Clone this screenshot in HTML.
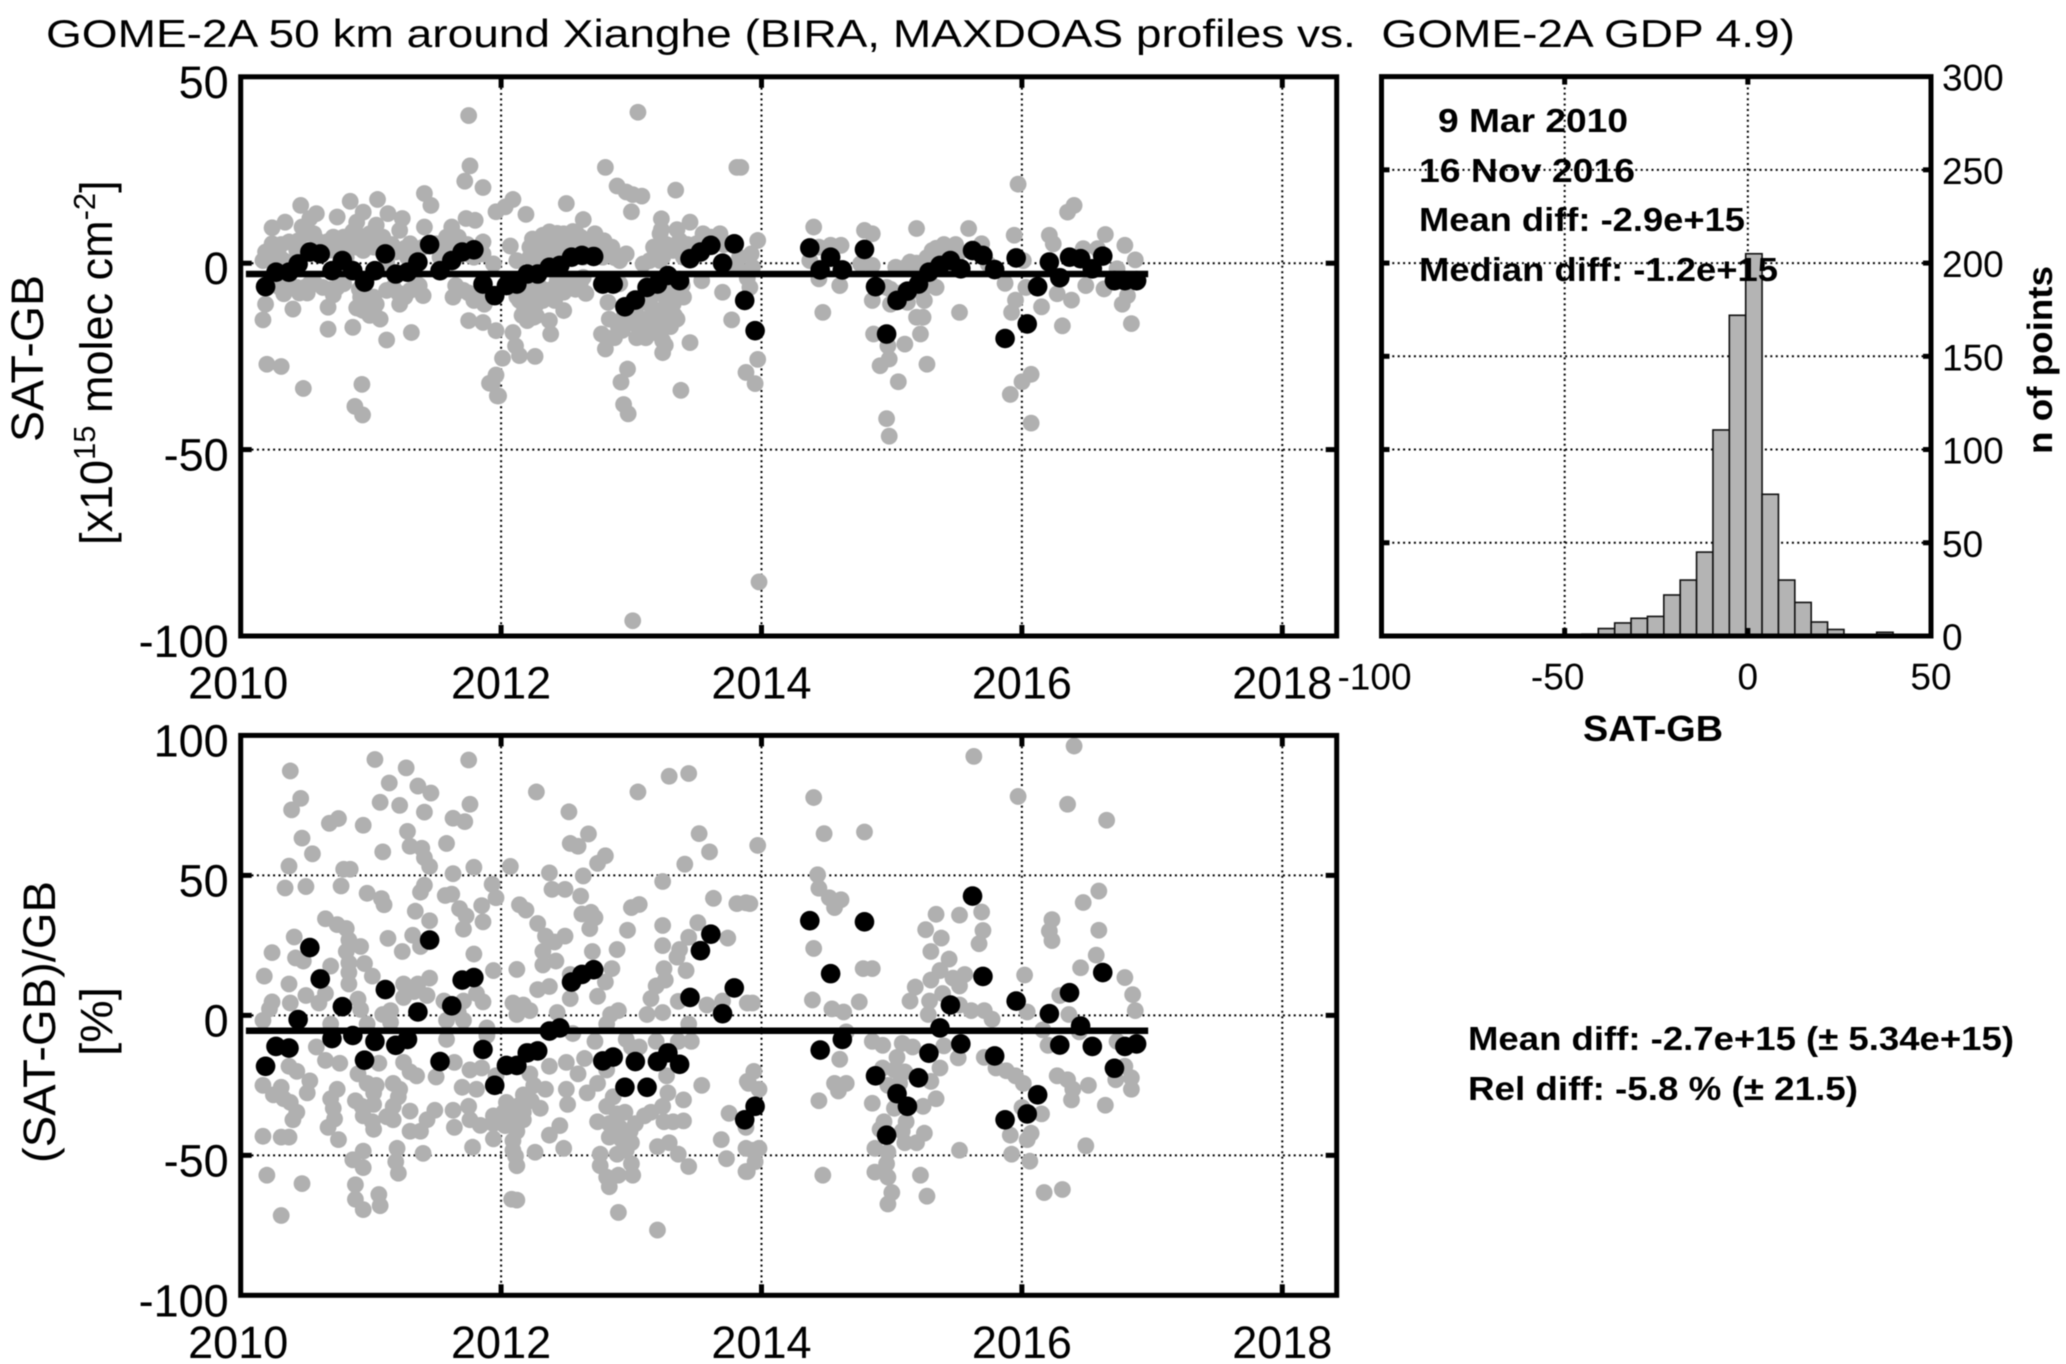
<!DOCTYPE html>
<html lang="en">
<head>
<meta charset="utf-8">
<title>GOME-2A 50 km around Xianghe</title>
<style>
html,body{margin:0;padding:0;background:#fff;}
svg{display:block;font-family:"Liberation Sans",sans-serif;filter:blur(0.5px);}
</style>
</head>
<body>
<svg id="chart" xmlns="http://www.w3.org/2000/svg" width="2066" height="1364" viewBox="0 0 2066 1364">
<rect x="0" y="0" width="2066" height="1364" fill="#fff"/>
<text x="46" y="47" font-size="39" textLength="1749" lengthAdjust="spacingAndGlyphs" xml:space="preserve">GOME-2A 50 km around Xianghe (BIRA, MAXDOAS profiles vs.  GOME-2A GDP 4.9)</text>
<text transform="translate(43,442) rotate(-90)" font-size="45" textLength="167" lengthAdjust="spacingAndGlyphs">SAT-GB</text>
<text transform="translate(112,545) rotate(-90)" font-size="45">[x10<tspan dy="-17" font-size="31">15</tspan><tspan dy="17"> molec cm</tspan><tspan dy="-17" font-size="31">-2</tspan><tspan dy="17">]</tspan></text>
<text transform="translate(55,1163) rotate(-90)" font-size="45" textLength="282" lengthAdjust="spacingAndGlyphs">(SAT-GB)/GB</text>
<text transform="translate(112,1056) rotate(-90)" font-size="45" textLength="69" lengthAdjust="spacingAndGlyphs">[%]</text>
<text x="1583" y="741" font-size="36" font-weight="bold" textLength="140" lengthAdjust="spacingAndGlyphs">SAT-GB</text>
<text transform="translate(2052,454) rotate(-90)" font-size="35" font-weight="bold" textLength="188" lengthAdjust="spacingAndGlyphs">n of points</text>
<g id="panels"></g>
<text x="1438" y="132" font-size="33" font-weight="bold" textLength="190" lengthAdjust="spacingAndGlyphs">9 Mar 2010</text>
<text x="1419" y="182" font-size="33" font-weight="bold" textLength="216" lengthAdjust="spacingAndGlyphs">16 Nov 2016</text>
<text x="1419" y="231" font-size="33" font-weight="bold" textLength="326" lengthAdjust="spacingAndGlyphs">Mean diff: -2.9e+15</text>
<text x="1419" y="281" font-size="33" font-weight="bold" textLength="359" lengthAdjust="spacingAndGlyphs">Median diff: -1.2e+15</text>
<text x="1468" y="1050" font-size="33" font-weight="bold" textLength="546" lengthAdjust="spacingAndGlyphs">Mean diff: -2.7e+15 (± 5.34e+15)</text>
<text x="1468" y="1100" font-size="33" font-weight="bold" textLength="390" lengthAdjust="spacingAndGlyphs">Rel diff: -5.8 % (± 21.5)</text>
</svg>
<script>
const yearTicks = [2010, 2012, 2014, 2016, 2018];
const diffTicks = [50, 0, -50, -100];
const pctTicks = [100, 50, 0, -50, -100];
const histValueTicks = [-100, -50, 0, 50];
const histCountTicks = [0, 50, 100, 150, 200, 250, 300];
const meanLineYears = [0.04, 6.97];
const meanDiffValue = -2.9;
const meanPctValue = -5.5;

const grayPctYears = [
.39,1.04,1.28,1.76,1.15,1.37,1.47,.47,.40,1.08,
1.23,1.77,1.42,.69,.76,.95,1.64,1.73,1.29,.48,
1.59,1.31,1.40,.56,1.10,1.42,1.46,.38,.80,.85,
1.64,1.80,.35,.51,.78,.98,1.09,1.11,1.42,1.39,
1.58,1.63,1.94,1.97,1.86,1.69,1.74,1.35,1.87,1.46,
.66,.75,.82,1.72,.42,1.14,1.33,.84,.93,.82,
.25,.43,.49,1.25,1.39,1.80,.84,.96,.70,.84,
1.02,.19,1.95,2.13,.84,.38,1.26,1.46,1.37,1.34,
1.44,1.26,.39,.25,.51,.61,.66,.91,.93,1.16,
1.10,1.82,1.87,1.57,1.72,1.68,.18,.23,.70,.98,
1.16,1.59,1.72,1.90,1.59,1.90,2.10,2.18,2.23,2.13,
2.29,2.38,
2.28,2.53,2.68,2.54,2.60,2.81,2.75,2.08,2.38,2.64,
2.40,2.50,2.62,2.15,2.20,2.29,2.63,2.70,2.73,2.69,
3.01,3.07,2.98,2.35,2.50,2.42,2.33,2.43,2.33,2.90,
2.71,2.86,2.81,2.54,2.75,2.54,2.44,2.85,2.91,2.82,
2.56,2.73,2.97,3.07,3.20,3.37,3.47,3.45,3.25,3.13,
3.20,3.16,3.27,3.26,3.43,3.36,3.38,3.45,3.25,3.25,
3.52,3.25,3.30,3.45,3.06,3.53,3.61,3.42,3.64,3.82,
3.89,3.75,3.37,3.59,3.71,3.90,3.55,3.76,3.70,3.74,
3.89,3.89,3.91,
.59,.66,.77,1.07,.38,.44,.91,.54,.18,.32,
.52,.75,1.05,.98,1.18,1.23,1.31,1.36,1.26,1.51,
1.65,.26,.34,.39,.44,.41,.70,.72,.73,.68,
.76,.89,.94,.95,1.02,1.03,1.03,1.03,1.18,1.13,
1.18,1.22,1.31,1.50,1.44,1.39,1.31,.18,.32,.38,
1.64,1.76,1.65,1.77,1.85,1.95,1.95,1.79,1.41,1.21,
1.20,1.22,.95,.87,.95,.21,.48,.89,1.07,.89,
.95,1.08,.32,
2.23,2.26,2.35,2.18,2.24,2.31,2.05,2.13,2.18,2.03,
2.10,2.18,1.95,2.04,2.13,2.10,2.10,2.12,2.13,2.27,
2.38,2.46,2.49,2.09,2.13,1.71,1.77,1.86,1.82,1.97,
2.51,2.52,2.60,2.65,2.67,2.75,2.51,2.38,2.82,
2.87,2.82,2.75,2.90,2.96,3.04,3.11,3.16,2.84,2.92,
3.00,2.84,2.93,3.01,2.90,2.97,2.77,2.77,2.82,2.84,
2.91,3.01,3.02,2.91,3.21,3.21,3.30,3.37,3.45,3.29,
3.25,3.41,3.26,3.41,3.33,3.01,3.28,
3.98,3.92,3.94,3.95,3.90,3.99,3.89,3.94,3.99,3.96,
3.90,4.41,4.49,4.80,4.44,4.45,4.53,4.62,4.57,4.41,
4.79,4.86,4.40,4.76,4.55,4.64,4.66,4.86,4.94,4.61,
4.57,4.66,4.60,4.45,4.86,4.48,5.09,5.17,5.05,4.94,
5.03,5.11,4.98,5.07,5.38,5.31,5.35,5.25,5.03,4.95,
5.12,4.92,5.09,5.26,5.11,5.20,4.88,4.98,4.97,4.88,
4.98,5.01,4.98,5.23,5.28,5.53,5.35,5.53,5.70,5.27,
5.39,5.71,5.68,5.31,5.45,5.38,5.31,5.48,5.57,5.53,
5.19,5.15,5.30,5.40,5.29,5.53,5.62,5.72,5.78,5.41,
5.52,5.72,5.81,5.89,5.96,6.02,5.64,5.98,6.41,6.36,
6.66,6.60,6.48,6.24,6.22,6.24,6.60,6.58,6.46,6.03,
6.80,6.86,6.88,6.30,6.05,6.37,6.17,6.45,6.21,6.74,
6.80,6.85,6.73,6.85,6.28,6.36,6.40,6.39,6.52,6.65,
6.01,6.16,6.08,6.05,5.92,5.93,6.07,6.50,6.18,6.32
];
const grayPctValues = [
87.3,91.4,88.4,91.2,83,81.9,79.4,77.5,73.4,76.1,
75,75.4,72.6,68.6,70.3,67.9,70.4,69.2,65.7,63.3,
61.4,60.4,59.7,57.7,58.4,56.3,53.2,53.3,52.2,52.2,
50.6,52.9,45.5,46,46.2,43.6,41.7,39.5,46.5,44,
42.8,43.3,46.8,42,39.2,38.1,35.5,37.2,33.4,33.8,
34.5,32.4,31,30.8,28,27.5,28.6,26.9,24.6,22.8,
22.4,20.5,19.4,22.8,24.6,21.9,18.7,18.5,17.6,15.3,
14,14,16,16.4,11.2,11.2,11.2,13.3,11.2,8.5,
7.1,6.4,4.4,4.8,7.1,4.4,7.8,5.8,2.1,1.7,
.3,7.8,4.8,5.1,5.1,1,-1.8,2.3,-3.1,-3.1,
-2.5,-1.8,-1.8,-4.5,-8.6,-7.2,4.4,3.7,1.7,.3,
9.2,10.3,
79.8,72.7,64.8,61.4,60.4,57,54.3,53.2,50.9,49.8,
45,45,42.6,39.5,37.6,32.8,36.2,36.8,34.9,31,
38.5,39.6,30.4,28.3,28.3,26.2,22.8,19.4,18,23.5,
22.8,16.7,11.9,14.6,6.8,6,1,.3,1.7,-3.1,
-6.5,-9.3,-8.6,-11.3,-9.3,-9.3,-9.3,-3.1,1,.3,
10.5,6,12.6,16.7,16,20.8,23.5,27.9,24.9,32.1,
33.1,47.8,85.4,86.4,79.8,64.9,58.4,54,41.8,39.9,
40.2,27.6,5,3.7,5.1,4.4,-25,-35,-44.4,-51.2,
-47.5,-55.8,-24.3,
-11.3,-16.1,-17.1,-17.1,-18.2,-20,-20.9,-23.4,-25,-25.7,
-27.7,-26.4,-25,-24.3,-24.3,-26.4,-20.2,-21.6,-16.8,-22,
-16.8,-28.4,-29.8,-31.1,-34.6,-37.3,-29.8,-33.2,-37,-40,
-44.4,-30.5,-32.5,-35.9,-38,-40.7,-27.7,-31.8,-32.5,-36.2,
-37.3,-29.1,-34.2,-33.9,-37.3,-41.4,-41.4,-43.2,-43.5,-43.5,
-33.9,-32.5,-40,-37.3,-39.3,-35.9,-44.1,-47.1,-49.3,-47.5,
-52.3,-56.4,-48.5,-51.6,-54.4,-57.1,-60.1,-60.5,-64,-65.7,
-69.4,-68,-71.5,
-20.9,-25,-26.4,-28.4,-30.5,-33.2,-31.1,-32.5,-34.6,-34.6,
-35.9,-37.3,-38.7,-39.4,-41.4,-44.8,-48.2,-50.3,-53.7,-48.9,
-42.8,-39.4,-47.5,-65.7,-66,-25.7,-19.5,-18.8,-26.4,-21.6,
-26.4,-31.8,-20.9,-15.4,-27.7,-24.3,-16.8,-18.2,-19.5,
-29.1,-32.5,-38,-35.2,-34.6,-38.7,-35.9,-34.6,-38.7,-40,
-41.4,-43.5,-44.1,-45.5,-49.6,-48.2,-49.6,-53.7,-57.8,-61.2,
-57.1,-53,-57.1,-70.4,-76.7,-46.9,-45.5,-49.6,-54,-27.7,
-32.5,-30.2,-38,-37.7,-38,-11.3,-21.6,
60.7,39.9,4.4,-20,-23.6,-26.4,-40,-48.2,-47.5,-52.3,
-55.8,77.8,64.9,65.5,50.2,45.4,42,41.3,38.5,23.9,
16.7,16.7,5.5,4.8,2.3,1.2,-5.9,-9.3,-10.7,-15.7,
-24.3,-24.3,-27,-30.5,-31.4,-57.1,-10,-11.3,-15,-18.8,
-19.5,-20.2,-25,-24.3,-18.8,-23.6,-29.8,-32.5,-33.2,-38,
-38,-40.7,-41.4,-42.1,-45.5,-45.5,-47.5,-48.9,-53,-56,
-57.8,-63.3,-67.4,-57.1,-64.6,-48.2,36.1,35.8,36.9,30.6,
27.6,30.3,25.6,22.8,20.1,16,12.6,13.3,14.6,10.5,
10.1,5.1,5.1,7.8,.3,3.7,1.7,1.7,-1.4,-10.9,
-15.2,-15,-18.8,-19.8,-21.6,-24.3,92.5,78.2,96.2,75.4,
69.7,44.4,40.3,34.2,30.1,26.7,30.4,21.5,17,14.4,
13.5,7.4,1.7,7.1,1.2,.3,-5.2,-5.9,-10.7,-9.3,
-18.2,-22.3,-23,-26.4,-21.6,-23,-26.4,-30.2,-25,-32.1,
-32.9,-35.2,-42.1,-44.4,-42.8,-49.6,-52.1,-46.6,-63.3,-62.2
];

const grayDiffYears = [
1.76,3.06,1.77,1.73,1.87,1.42,1.47,2.81,3.82,2.90,
2.97,3.02,3.09,3.01,3.35,.47,.85,1.06,.95,.59,
.35,.25,.75,1.14,1.25,.54,.48,.57,.90,1.05,
1.23,1.42,1.63,1.74,1.81,.25,.38,.67,.90,1.00,
1.31,1.59,1.87,1.97,2.04,2.10,2.20,2.51,2.64,2.08,
2.38,2.28,2.49,2.59,2.73,2.86,2.97,3.24,3.23,3.46,
3.38,3.56,3.69,3.18,3.30,
.18,.34,.52,.77,.95,1.03,1.21,1.41,1.54,1.72,
1.87,1.95,2.13,2.23,2.36,2.49,2.64,2.77,2.92,3.10,
3.23,3.33,3.51,3.63,
.34,.41,.20,.18,.50,.68,.68,.87,.75,.93,
1.00,1.08,1.13,1.32,1.23,1.41,1.64,1.76,1.87,1.97,
2.10,2.12,2.15,2.27,2.02,1.97,1.92,1.99,.21,.32,
.49,.94,.945,.886,2.19,2.15,2.28,2.21,2.38,2.39,
2.49,2.36,2.49,2.66,2.59,2.83,2.78,2.81,2.98,2.93,
2.95,2.91,3.05,3.13,3.23,3.25,3.30,3.36,3.16,3.41,
3.46,3.39,3.55,3.71,3.78,3.89,3.02,3.99,2.985,3.96,
3.98,1.98,1.94,
3.85,3.98,3.93,3.94,3.92,4.41,4.45,4.54,4.62,4.80,
4.86,4.77,4.86,4.38,4.45,4.61,4.48,4.86,4.97,5.00,
5.13,5.20,5.32,5.38,5.15,5.04,5.43,5.53,5.60,5.70,
5.75,5.35,5.26,5.20,5.25,5.23,5.11,4.87,4.98,4.99,
4.92,5.28,5.06,4.97,4.99,5.53,5.88,5.98,5.95,6.02,
6.04,5.96,5.93,6.16,6.28,6.39,6.32,6.50,6.64,6.82,
6.78,6.85,6.22,6.25,6.36,6.41,6.48,6.59,6.65,6.80,
6.88,6.74,5.92,6.01,6.08,6.08,
.31,.44,.54,.64,.80,.93,1.03,.95,1.03,1.13,
1.31,1.36,1.72,1.80,.31,.44,.59,.82,.90,1.10,
1.13,1.29,1.51,1.67,1.80,2.23,2.33,2.49,2.64,2.79,
2.44,2.31,2.20,2.49,2.23,2.28,2.18,2.33,2.64,2.92,
3.25,3.28,3.23,3.25,3.33,3.18,3.05,3.04,2.95,2.82,
3.25,3.25,3.15,3.41,3.61,3.84,
.20,.27,.32,.45,.52,.60,.70,.72,.80,.85,
.87,.93,1.00,1.07,1.10,1.17,1.20,1.27,1.35,1.60,
1.62,1.68,1.75,1.78,1.85,
2.25,2.30,2.33,2.40,2.44,2.44,2.52,2.56,2.57,2.62,
2.66,2.70,2.75,2.80,2.83,2.88,2.38,2.30,
.37,.46,.52,.58,.70,.72,.92,.97,1.00,1.05,
.90,1.18,1.22,1.27,1.38,1.66,1.76,1.84,1.88,
2.16,2.13,2.17,2.23,2.26,2.33,2.40,2.42,2.45,2.54,
2.58,2.62,
3.15,3.20,3.27,3.31,3.34,3.22,3.27,3.10,3.00,2.94,
2.88,2.84,3.06,3.12,3.20,3.33,3.40,3.22,3.28,3.24,
3.36,3.44,3.50,3.62,3.72,3.82,3.90,
5.28,5.35,5.41,5.47,5.50,5.12,5.20,5.30,5.24,5.00,
5.08
];
const grayDiffValues = [
39.6,40.5,26.1,22,20.3,18.7,15.5,25.7,25.7,20.7,
19.1,18.4,18,13.8,19.6,15.5,16.6,17.1,13.7,13.3,
11,9.5,12.4,13.3,12,12,9.7,7.9,11,10.2,
8.8,9.7,9.7,12,11.5,5.2,5.7,5.7,7.9,7.9,
5.2,7,5.7,13.8,15.1,17.1,13.1,16,11.7,4.6,
8.4,6.1,7.9,7.9,7.9,4.3,2.5,11.9,7.9,11,
6.1,7.9,7.9,4.3,4.3,
.7,.7,3.4,3.9,3.4,4.3,3.4,4.3,1.6,3.4,
2.5,-.2,.7,1.6,4.3,4.3,4.3,4.3,.7,-.2,
.7,3.4,5.2,5.2,
-8.2,-12.3,-11,-15.2,-6.5,-11.8,-17.7,-17.2,-6.5,-12.3,
-11,-15,-20.6,-18.6,-11,-8.7,-9.1,-15.4,-15.9,-18.1,
-18.6,-22.2,-24.8,-25,-25.5,-30,-32.2,-35.6,-27.1,-27.7,
-33.6,-32.5,-40.7,-38.4,-12.3,-10,-11,-15.4,-15.4,-19,
-12.7,-7.3,-7.8,-8.1,-4.7,-10.5,-19,-23,-28.4,-31.9,
-37.9,-17.2,-20,-17.2,-17.2,-24,-12.7,-15,-9.1,-9.1,
-21.3,-34.1,-4.7,-7.8,-15.2,-29.3,-95.9,-85.5,-40.4,-32.3,
-25.8,-35.6,-32.3,
25.7,6.1,2.5,-1.1,-6.5,9.7,4.3,4.8,4.8,8.8,
7.9,-.2,-.6,.7,-4.2,-6,-13.2,-10,-6.5,-11,
-10.5,9.3,3.4,3.9,.3,-1.1,3,3,9.3,5.2,
-.2,-6.5,-10,-14.5,-14.5,-19,-21.7,-19,-22.2,-25.7,
-27.5,-27.1,-31.8,-41.7,-46.4,-13.2,-5.4,21.2,7.5,.7,
-6.5,-9.9,-13.2,-11.7,-8.2,-9.9,-16.8,-6,-6.9,-8.7,
-11,-16.2,7.5,5.2,13.7,15.5,3.9,3.9,7.7,4.8,
.9,-1.5,-35.2,-31.8,-29.8,-42.9,
-6.5,-6.5,-5.5,-6.5,-5.5,-9.1,-9.1,-12.7,-12.7,-7.3,
-7.3,-5.5,-7.3,-10,1.6,3.4,4.3,1.6,4.3,7,
.3,1.6,5.2,4.3,1.6,4.3,1.6,1.6,1.6,1.6,
-4.7,-6.5,-6.5,-3.8,-9.1,-14.1,-13.6,-10,-3.8,-5.5,
-6.5,-10,-12.7,-15.4,-11,-16.3,-15.4,-12.7,-14.5,-20,
-20.8,1.6,.7,1.6,6.1,1.6,
3,2,5,6,8,6,3.5,7,7,5,
8.5,6,5.5,7,3,5,3,4,3,3.5,
5.5,7,5,2,2.5,
6.5,4,7.5,6,8,3.5,6,8.5,5,7,
6,5.5,5,6,2.5,1.5,1.5,1,
-6,-8,-8,-5.5,-7,-8.5,-7,-11,-14,-11,
-12,-6.5,-8,-9,-6,-6,-8,-8,-11,
-6,-9,-14,-13,-14.5,-8,-7,-10,-7,-6,
-7,-5,
-11,-14,-14,-17,-14,-19,-22,-15,-16,-18,
-20,-15,-17,-20,-7,-8,-6,2,5,9,
9,5,5,7,5,-1,-4,
1.5,4,5,2.5,5,-1,0,-5,-8,-7,
-8
];

const blackYears = [
.20,.28,.38,.45,.54,.62,.71,.79,.87,.96,
1.04,1.12,1.20,1.29,1.37,1.46,1.54,1.63,1.71,1.80,
1.87,1.96,2.05,2.13,2.21,2.29,2.38,2.46,2.55,2.63,
2.72,2.79,2.87,2.96,3.04,3.13,3.21,3.29,3.38,3.46,
3.54,3.62,3.71,3.80,3.88,3.96,4.38,4.46,4.54,4.63,
4.80,4.885,4.97,5.05,5.13,5.215,5.295,5.38,5.46,5.54,
5.63,5.71,5.80,5.88,5.965,6.05,6.13,6.22,6.30,6.375,
6.46,6.55,6.63,6.72,6.80,6.89
];
const blackPctValues = [
-18.2,-11.1,-11.7,-1.5,24.2,13,-8.3,3.1,-7.2,-16,
-9.3,9.2,-10.7,-8.6,1.2,26.9,-16.5,3.4,12.6,13.5,
-12.2,-25,-17.9,-17.9,-13.4,-12.7,-5.6,-4.5,11.9,14.6,
16.3,-16.3,-14.9,-25.7,-16.5,-25.7,-16.5,-13.4,-17.5,6.4,
23.1,29,.6,9.8,-37.3,-32.5,33.8,-12.4,14.9,-8.6,
33.4,-21.6,-42.8,-28,-32.5,-22.3,-13.5,-4.5,3.7,-10.2,
42.6,13.9,-14.5,-37.3,5.1,-35.2,-28.4,.6,-10.6,8.1,
-3.8,-11.1,15.3,-18.9,-11.1,-10.2
];
const blackDiffValues = [
-6.3,-2.4,-2.4,-.2,3,2.5,-2,.7,-2,-5.1,
-2,2.5,-2.9,-2.4,.3,5,-2,.7,3,3.6,
-5.6,-8.7,-6,-5.6,-2.9,-2.9,-1.1,-.6,1.6,2.1,
1.8,-5.6,-5.6,-11.7,-9.9,-6.5,-5.6,-3.3,-4.7,1.2,
3,4.8,0,5.2,-10,-18.1,4.1,-1.8,1.6,-1.8,
3.7,-6.3,-19,-10,-7.5,-5.6,-2.4,-.6,.7,-1.5,
3.4,2.1,-1.7,-20.2,1.4,-16.3,-6.3,.3,-3.9,1.6,
1.2,-1.5,1.9,-4.7,-4.7,-4.7
];

const histBinCenters = [-43.05,-38.58,-34.11,-29.64,-25.17,-20.7,-16.23,-11.76,-7.29,-2.82,1.65,6.12,10.59,15.06,19.53,24.0,37.41];
const histCounts = [1,4,7,9.5,10.5,22,30,45,110.5,172,205,76,30,18,7.5,3.5,2];
const histBinWidth = 4.47;

const SVG_NS = 'http://www.w3.org/2000/svg';
const host = document.getElementById('panels');

function make(tag, parent, attrs) {
  const el = document.createElementNS(SVG_NS, tag);
  for (const k in attrs) el.setAttribute(k, attrs[k]);
  parent.appendChild(el);
  return el;
}
function linear(d0, d1, r0, r1) {
  return v => r0 + (v - d0) * (r1 - r0) / (d1 - d0);
}
function gridLine(parent, x1, y1, x2, y2) {
  const el = make('line', parent, {x1, y1, x2, y2, stroke: '#000', 'stroke-width': 2, 'stroke-dasharray': '2 3.4'});
  
  
}
function tickMark(parent, x1, y1, x2, y2) {
  const el = make('line', parent, {x1, y1, x2, y2, stroke: '#000', 'stroke-width': 5});
  
  
}
function tickLabel(parent, text, x, y, anchor, size) {
  const el = make('text', parent, {x, y, 'text-anchor': anchor, 'font-size': size});
  
  
  el.textContent = text;
}
function frame(parent, box) {
  const el = make('rect', parent, {x: box.l, y: box.t, width: box.r - box.l, height: box.b - box.t, fill: 'none', stroke: '#000', 'stroke-width': 5});
  
  
}

function drawScatter(box, name, yDomain, yTickValues, grayX, grayY, blackX, blackY, meanValue, labelBaseline) {
  const g = make('g', host, {});
  
  
  const sx = linear(0, 8.418, box.l, box.r);
  const sy = linear(yDomain[0], yDomain[1], box.b, box.t);
  const yearX = y => sx(y - 2010);
  const readingBias = 0.009;

  yearTicks.forEach(y => {
    if (y > 2010) gridLine(g, yearX(y), box.t, yearX(y), box.b);
  });
  yTickValues.forEach(v => {
    if (v < yDomain[1] && v > yDomain[0]) gridLine(g, box.l, sy(v), box.r, sy(v));
  });

  const n = Math.min(grayX.length, grayY.length);
  for (let i = 0; i < n; i++) {
    const c = make('circle', g, {cx: sx(grayX[i] - readingBias), cy: sy(grayY[i]), r: 8.4, fill: '#b0b0b0'});
    
    
  }
  for (let i = 0; i < blackX.length; i++) {
    const c = make('circle', g, {cx: sx(blackX[i] - readingBias), cy: sy(blackY[i]), r: 9.8, fill: '#000'});
    
    
  }
  const mean = make('line', g, {x1: sx(meanLineYears[0]), x2: sx(meanLineYears[1]), y1: sy(meanValue), y2: sy(meanValue), stroke: '#000', 'stroke-width': 6.5});
  
  

  yearTicks.forEach(y => {
    if (y > 2010) {
      tickMark(g, yearX(y), box.t, yearX(y), box.t + 11);
      tickMark(g, yearX(y), box.b, yearX(y), box.b - 11);
    }
    tickLabel(g, String(y), yearX(y) - (y === 2010 ? 2.5 : 0), labelBaseline, 'middle', 45);
  });
  yTickValues.forEach(v => {
    if (v < yDomain[1] && v > yDomain[0]) {
      tickMark(g, box.l, sy(v), box.l + 11, sy(v));
      tickMark(g, box.r, sy(v), box.r - 11, sy(v));
    }
    tickLabel(g, String(v), box.l - 12, sy(v) + 21, 'end', 45);
  });
  frame(g, box);
}

function drawHistogram(box) {
  const g = make('g', host, {});
  
  
  const sx = linear(-100, 50, box.l, box.r);
  const sy = linear(0, 300, box.b, box.t);
  histValueTicks.forEach(v => {
    if (v > -100 && v < 50) gridLine(g, sx(v), box.t, sx(v), box.b);
  });
  histCountTicks.forEach(v => {
    if (v > 0 && v < 300) gridLine(g, box.l, sy(v), box.r, sy(v));
  });
  histCounts.forEach((count, i) => {
    const x0 = sx(histBinCenters[i] - histBinWidth / 2);
    const x1 = sx(histBinCenters[i] + histBinWidth / 2);
    const bar = make('rect', g, {x: x0, y: sy(count), width: x1 - x0, height: box.b - sy(count), fill: '#b4b4b4', stroke: '#111', 'stroke-width': 1.6});
    
    
  });
  histValueTicks.forEach(v => {
    if (v > -100 && v < 50) {
      tickMark(g, sx(v), box.t, sx(v), box.t + 8);
      tickMark(g, sx(v), box.b, sx(v), box.b - 8);
    }
    tickLabel(g, String(v), sx(v) - (v < 0 ? 7 : 0), 689.5, 'middle', 37);
  });
  histCountTicks.forEach(v => {
    if (v > 0 && v < 300) {
      tickMark(g, box.l, sy(v), box.l + 8, sy(v));
      tickMark(g, box.r, sy(v), box.r - 8, sy(v));
    }
    tickLabel(g, String(v), box.r + 11, sy(v) + 14, 'start', 37);
  });
  frame(g, box);
}

drawScatter({l: 240.7, r: 1336.7, t: 76.8, b: 636}, 'absolute-difference-panel', [-100, 50], diffTicks, grayDiffYears, grayDiffValues, blackYears, blackDiffValues, meanDiffValue, 698.5);
drawScatter({l: 240.7, r: 1336.7, t: 735.4, b: 1295.3}, 'relative-difference-panel', [-100, 100], pctTicks, grayPctYears, grayPctValues, blackYears, blackPctValues, meanPctValue, 1358);
drawHistogram({l: 1381.5, r: 1931, t: 76.6, b: 636});
</script>
</body>
</html>
